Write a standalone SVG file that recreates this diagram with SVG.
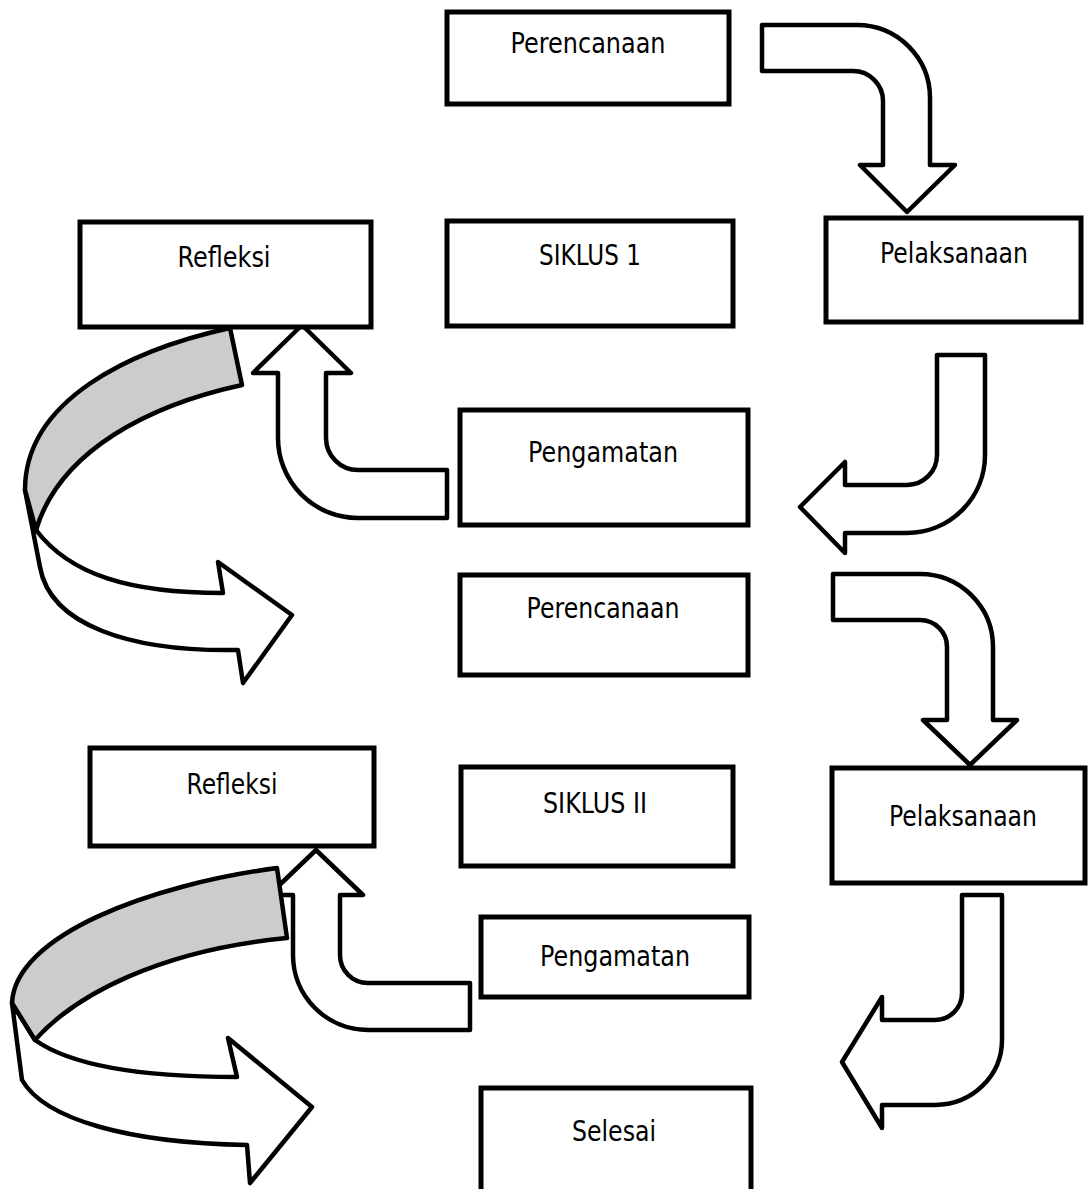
<svg xmlns="http://www.w3.org/2000/svg" width="1088" height="1189" viewBox="0 0 1088 1189">
<style>
.box{fill:#fff;stroke:#000;stroke-width:5}
.lbl{font-family:"DejaVu Sans","Liberation Sans",sans-serif;font-size:28px;fill:#000;text-anchor:middle}
.arr{fill:#fff;stroke:#000;stroke-width:4.5;stroke-linejoin:round}
.back{fill:#cccccc;stroke:#000;stroke-width:4.5;stroke-linejoin:round}
</style>
<rect width="1088" height="1189" fill="#fff"/>
<g id="connectors">
<path class="arr" d="M 762,25 L 857,25 A 73,73 0 0 1 930,98 L 930,165 L 955,165 L 907,212 L 860,165 L 883,165 L 883,101 A 30,30 0 0 0 853,71 L 762,71 Z"/>
<path class="arr" d="M 937,355 L 985,355 L 985,455 A 78,78 0 0 1 907,533 L 845,533 L 845,553 L 800,507 L 845,462 L 845,485 L 907,485 A 30,30 0 0 0 937,455 Z"/>
<path class="arr" d="M 447,470 L 447,518 L 358,518 A 80,80 0 0 1 278,438 L 278,373 L 253,373 L 302,325 L 351,373 L 326,373 L 326,438 A 32,32 0 0 0 358,470 Z"/>
<path class="arr" d="M 25,490 L 36,530 C 70,575 130,593 223,593 L 218,562 L 292,615 L 243,683 L 238,650 C 130,652 50,625 40,567 Z"/>
<path class="back" d="M 230,328 C 130,350 25,400 25,490 L 36,530 C 60,450 150,405 242,385 Z"/>
<path class="arr" d="M 833,574 L 920,574 A 73,73 0 0 1 993,647 L 993,720 L 1017,720 L 970,765 L 923,720 L 947,720 L 947,647 A 27,27 0 0 0 920,620 L 833,620 Z"/>
<path class="arr" d="M 962,895 L 1002,895 L 1002,1040 A 67,65 0 0 1 935,1105 L 882,1105 L 882,1128 L 842,1062 L 882,997 L 882,1020 L 935,1020 A 27,27 0 0 0 962,993 Z"/>
<path class="arr" d="M 470,983 L 470,1030 L 368,1030 A 75,75 0 0 1 293,955 L 293,895 L 269,895 L 316,850 L 363,895 L 340,895 L 340,955 A 28,28 0 0 0 368,983 Z"/>
<path class="arr" d="M 12,1003 L 35,1040 C 70,1065 140,1077 237,1077 L 228,1038 L 312,1107 L 250,1183 L 247,1145 C 130,1143 45,1120 22,1080 Z"/>
<path class="back" d="M 277,868 C 150,885 15,935 12,1003 L 35,1040 C 75,995 160,950 287,938 Z"/>
</g>
<g id="perencanaan1"><rect class="box" x="447" y="12" width="282" height="92"/><text class="lbl" x="588" y="53" textLength="155" lengthAdjust="spacingAndGlyphs">Perencanaan</text></g>
<g id="refleksi1"><rect class="box" x="80" y="222" width="291" height="105"/><text class="lbl" x="224" y="267" textLength="93" lengthAdjust="spacingAndGlyphs">Refleksi</text></g>
<g id="siklus1"><rect class="box" x="447" y="221" width="286" height="105"/><text class="lbl" x="590" y="265" textLength="102" lengthAdjust="spacingAndGlyphs">SIKLUS 1</text></g>
<g id="pelaksanaan1"><rect class="box" x="826" y="218" width="255" height="104"/><text class="lbl" x="954" y="263" textLength="148" lengthAdjust="spacingAndGlyphs">Pelaksanaan</text></g>
<g id="pengamatan1"><rect class="box" x="460" y="410" width="288" height="115"/><text class="lbl" x="603" y="462" textLength="150" lengthAdjust="spacingAndGlyphs">Pengamatan</text></g>
<g id="perencanaan2"><rect class="box" x="460" y="575" width="288" height="100"/><text class="lbl" x="603" y="618" textLength="153" lengthAdjust="spacingAndGlyphs">Perencanaan</text></g>
<g id="refleksi2"><rect class="box" x="90" y="748" width="284" height="98"/><text class="lbl" x="232" y="794" textLength="91" lengthAdjust="spacingAndGlyphs">Refleksi</text></g>
<g id="siklus2"><rect class="box" x="461" y="767" width="272" height="99"/><text class="lbl" x="595" y="813" textLength="104" lengthAdjust="spacingAndGlyphs">SIKLUS II</text></g>
<g id="pelaksanaan2"><rect class="box" x="832" y="768" width="253" height="115"/><text class="lbl" x="963" y="826" textLength="148" lengthAdjust="spacingAndGlyphs">Pelaksanaan</text></g>
<g id="pengamatan2"><rect class="box" x="481" y="917" width="268" height="80"/><text class="lbl" x="615" y="966" textLength="150" lengthAdjust="spacingAndGlyphs">Pengamatan</text></g>
<g id="selesai"><rect class="box" x="481" y="1088" width="270" height="110"/><text class="lbl" x="614" y="1141" textLength="84" lengthAdjust="spacingAndGlyphs">Selesai</text></g>
</svg>
